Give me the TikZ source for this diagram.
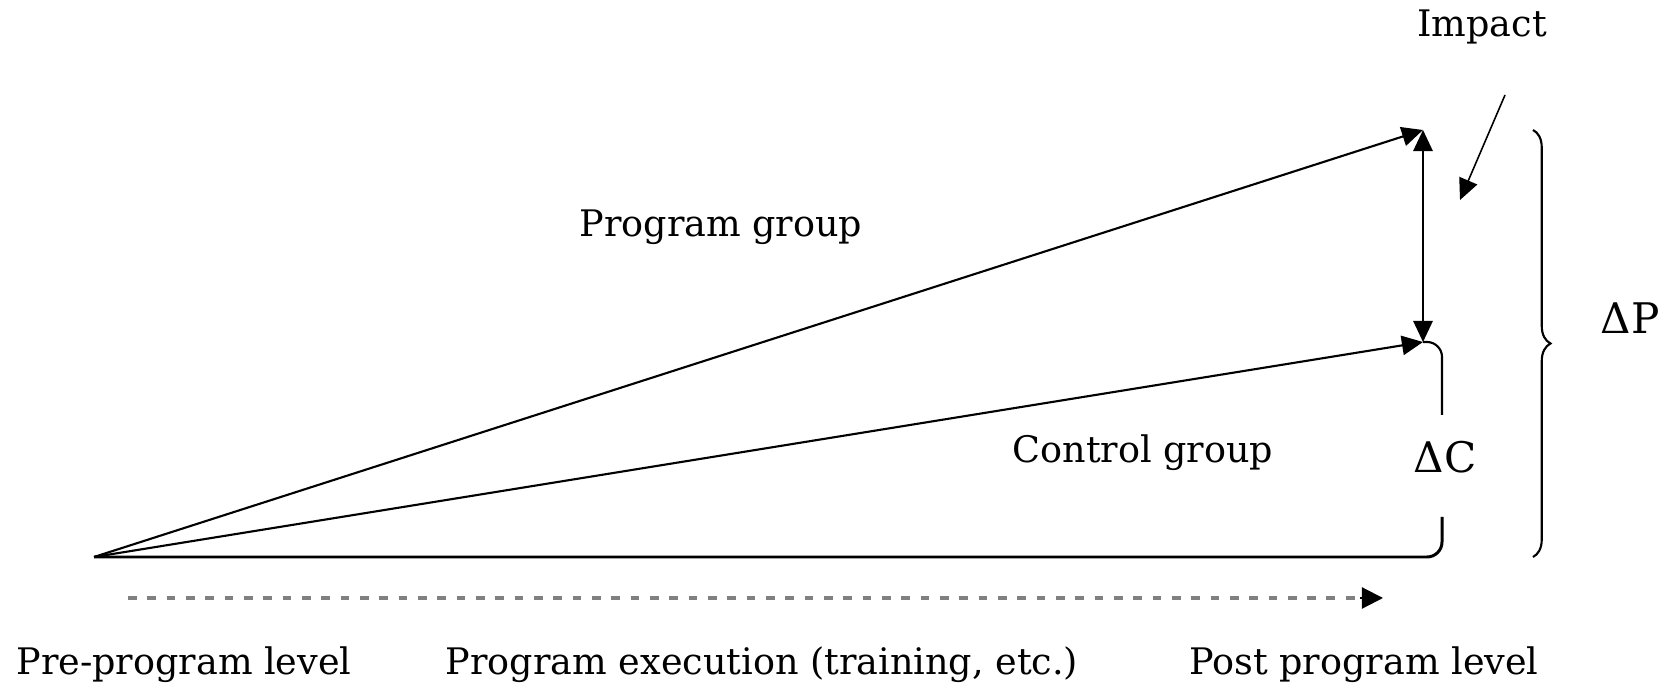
\documentclass[tikz,border=0pt]{standalone}
\usepackage{tikz}
\usepackage{fontspec}
\setmainfont{DejaVu Serif}
\usetikzlibrary{arrows.meta}
\usetikzlibrary{decorations.pathreplacing}

\begin{document}
\begin{tikzpicture}[
  lbl/.style={font=\fontsize{20.8}{24}\selectfont},
  dlbl/.style={font=\fontsize{24}{28}\selectfont},
  tip/.style={-{Triangle[length=12pt,width=11pt]}},
  line width=1.2pt]
\useasboundingbox (0,0) rectangle (33.42,13.74);

\coordinate (O) at (1.88,2.60);			% pre-program level
\coordinate (P) at (28.46,11.14);			% program group end
\coordinate (C) at (28.46,6.90);			% control group end

\draw[tip] (O) -- (P);						% program group
\draw[tip] (O) -- (C);						% control group
\draw[line width=1.7pt,rounded corners=0.3cm] (O) -- (28.84,2.60) -- (28.84,3.40);	% baseline
\draw[rounded corners=0.3cm] (C) -- (28.84,6.90) -- (28.84,5.44);	% delta C upper
\draw[{Triangle[length=12pt,width=11pt]}-{Triangle[length=12pt,width=11pt]}] (P) -- (C);	% impact

\node[dlbl] (dc) at (28.9,4.6) {ΔC};
\node[lbl] (imp) at (29.64,13.2) {Impact};
\coordinate (impend) at (29.2,9.74);
\draw[tip,line width=0.9pt] (30.1,11.84) -- (impend);

\draw[decorate,decoration={brace,amplitude=0.35cm}] (30.66,11.14) -- (30.66,2.60);	% delta P
\node[dlbl] (dp) at (32.6,7.38) {ΔP};

\node[lbl] (pg) at (14.42,9.2) {Program group};
\node[lbl] (cg) at (22.86,4.68) {Control group};

\draw[gray,dash pattern=on 5pt off 6pt,line width=2pt] (2.56,1.78) -- (27.3,1.78);	% execution
\draw[-{Triangle[length=12pt,width=12pt]}] (27.2,1.78) -- (27.66,1.78);

\node[lbl] (pre) at (3.68,0.44) {Pre-program level};
\node[lbl] (exe) at (15.24,0.44) {Program execution (training, etc.)};
\node[lbl] (post) at (27.28,0.44) {Post program level};

\end{tikzpicture}
\end{document}
